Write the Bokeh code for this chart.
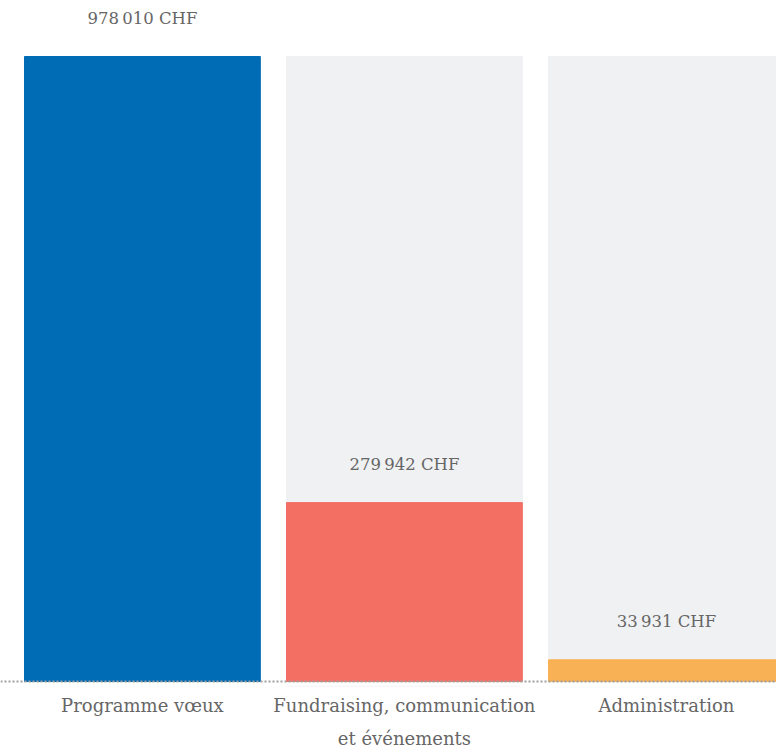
from bokeh.plotting import figure
from bokeh.models import Range1d, ColumnDataSource
from bokeh.core.properties import value
from bokeh.embed import file_html
from bokeh.resources import INLINE

categories = ["Programme vœux", "Fundraising, communication", "Administration"]
categories_line2 = ["", "et événements", ""]
amounts = [978010, 279942, 33931]
amount_labels = ["978\u202f010 CHF", "279\u202f942 CHF", "33\u202f931 CHF"]
colors = ["#006cb5", "#f36e63", "#f9b155"]

W, H = 776, 750
bar_px = 625.0          # pixel height of the tallest bar
top_px = 56.0           # space above tallest bar
bottom_px = H - top_px - bar_px
vmax = max(amounts)
per_px = vmax / bar_px
step_px = 262.0
x0 = 0.05 - 24.0 / step_px

xs = [i + 0.5 for i in range(len(categories))]
p = figure(width=W, height=H, output_backend="svg", toolbar_location=None,
           x_range=Range1d(x0, x0 + W / step_px),
           y_range=Range1d(-bottom_px * per_px, vmax + top_px * per_px),
           min_border=0, outline_line_color=None)
p.xaxis.visible = False
p.yaxis.visible = False
p.xgrid.visible = False
p.ygrid.visible = False
p.background_fill_color = "white"
p.border_fill_color = "white"

src = ColumnDataSource(dict(x=xs, v=amounts, bg=[vmax] * len(xs), c=colors,
                            lab=amount_labels, cat=categories, cat2=categories_line2))
p.vbar(x="x", top="bg", bottom=0, width=0.9, color="#f0f1f3", source=src)
p.vbar(x="x", top="v", bottom=0, width=0.9, color="c", source=src)

p.line(x=[p.x_range.start, p.x_range.end], y=[0, 0], line_color="#a0a0a0",
       line_width=2, line_dash="2 2")

font = value("DejaVu Serif")
p.text(x="x", y="v", text="lab", source=src, text_font=font, text_font_size="16.5px",
       text_color="#666666", text_align="center", text_baseline="middle", y_offset=-38)
p.text(x="x", y=0, text="cat", source=src, text_font=font, text_font_size="18px",
       text_color="#666666", text_align="center", text_baseline="middle", y_offset=24)
p.text(x="x", y=0, text="cat2", source=src, text_font=font, text_font_size="18px",
       text_color="#666666", text_align="center", text_baseline="middle", y_offset=57)

open("out.html", "w").write(file_html(p, INLINE))
